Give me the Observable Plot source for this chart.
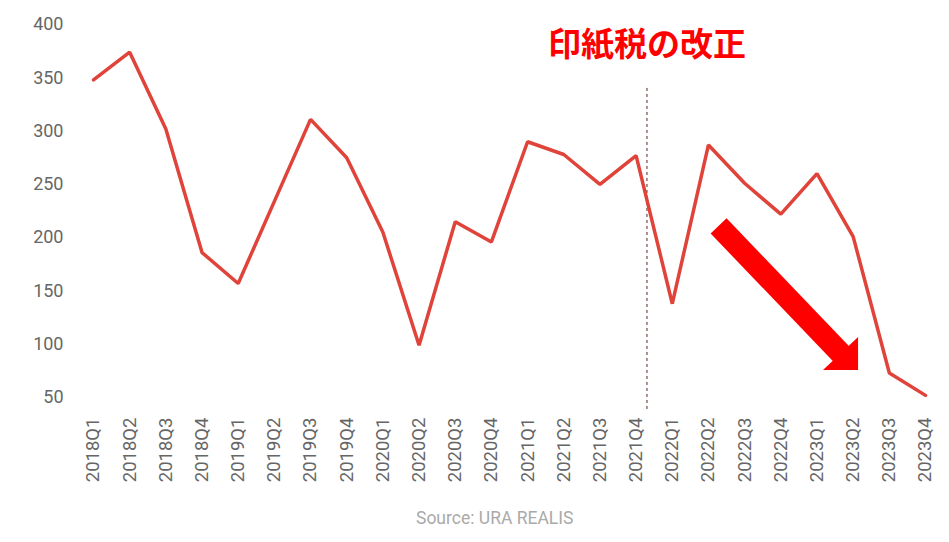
<!DOCTYPE html>
<html>
<head>
<meta charset="utf-8">
<script src="https://cdn.jsdelivr.net/npm/d3@7"></script>
<script src="https://cdn.jsdelivr.net/npm/@observablehq/plot@0.6"></script>
<style>
  body { margin: 0; background: #fff; }
  #source { font-family: Roboto, "Noto Sans", sans-serif; font-size: 17.5px; color: #aaa; padding-left: 416px; height: 42px; line-height: 36px; }
</style>
</head>
<body>
<div id="chart"></div>
<div id="source">Source: URA REALIS</div>
<script>
const quarters = ["2018Q1","2018Q2","2018Q3","2018Q4","2019Q1","2019Q2","2019Q3","2019Q4",
  "2020Q1","2020Q2","2020Q3","2020Q4","2021Q1","2021Q2","2021Q3","2021Q4",
  "2022Q1","2022Q2","2022Q3","2022Q4","2023Q1","2023Q2","2023Q3","2023Q4"];
const counts = [348, 374, 302, 186, 157, 234, 311, 275, 205, 99, 215, 196, 290, 278, 250, 277, 138, 287, 251, 222, 260, 201, 73, 52];
const yTicks = [50, 100, 150, 200, 250, 300, 350, 400];

// annotation (in data units: x = quarter index, y = count)
const revisionAt = 15.3;
const revisionSpan = [340, 36];
const revisionTitle = "印紙税の改正";
const revisionTitleY = 380;
const arrowShaft = [{x: 17.28, y: 211}, {x: 20.67, y: 91}];
const arrowHead = [{x: 20.18, y1: 75.4, y2: 75.4}, {x: 21.15, y1: 75.4, y2: 106.4}];

const data = quarters.map((q, i) => ({i, q, v: counts[i]}));

const chart = Plot.plot({
  width: 949,
  height: 500,
  marginLeft: 93,
  marginRight: 24,
  marginTop: 24,
  marginBottom: 103,
  x: {domain: [0, quarters.length - 1]},
  y: {domain: [50, 400]},
  style: {fontFamily: "Roboto, 'Noto Sans', sans-serif", background: "#fff"},
  marks: [
    Plot.axisY({ticks: yTicks, tickSize: 0, tickPadding: 30, fontSize: 18, color: "#666", label: null}),
    Plot.axisX({ticks: d3.range(quarters.length), tickFormat: i => quarters[i], tickRotate: -90,
      tickSize: 0, tickPadding: 20, fontSize: 18.5, color: "#666", label: null}),
    Plot.ruleX([revisionAt], {y1: revisionSpan[0], y2: revisionSpan[1], stroke: "#5a1f1f", strokeWidth: 1, strokeDasharray: "3,3"}),
    Plot.lineY(data, {x: "i", y: "v", stroke: "#e0433a", strokeWidth: 3.5, strokeLinejoin: "miter"}),
    Plot.line(arrowShaft, {x: "x", y: "y", stroke: "#ff0000", strokeWidth: 22, strokeLinecap: "butt"}),
    Plot.areaY(arrowHead, {x: "x", y1: "y1", y2: "y2", fill: "#ff0000"}),
    Plot.text([revisionTitle], {x: revisionAt, y: revisionTitleY, text: d => d, fill: "#ff0000",
      fontSize: 33, fontWeight: "bold", fontFamily: "'Noto Sans CJK JP', sans-serif"})
  ]
});
document.getElementById("chart").appendChild(chart);
</script>
</body>
</html>
